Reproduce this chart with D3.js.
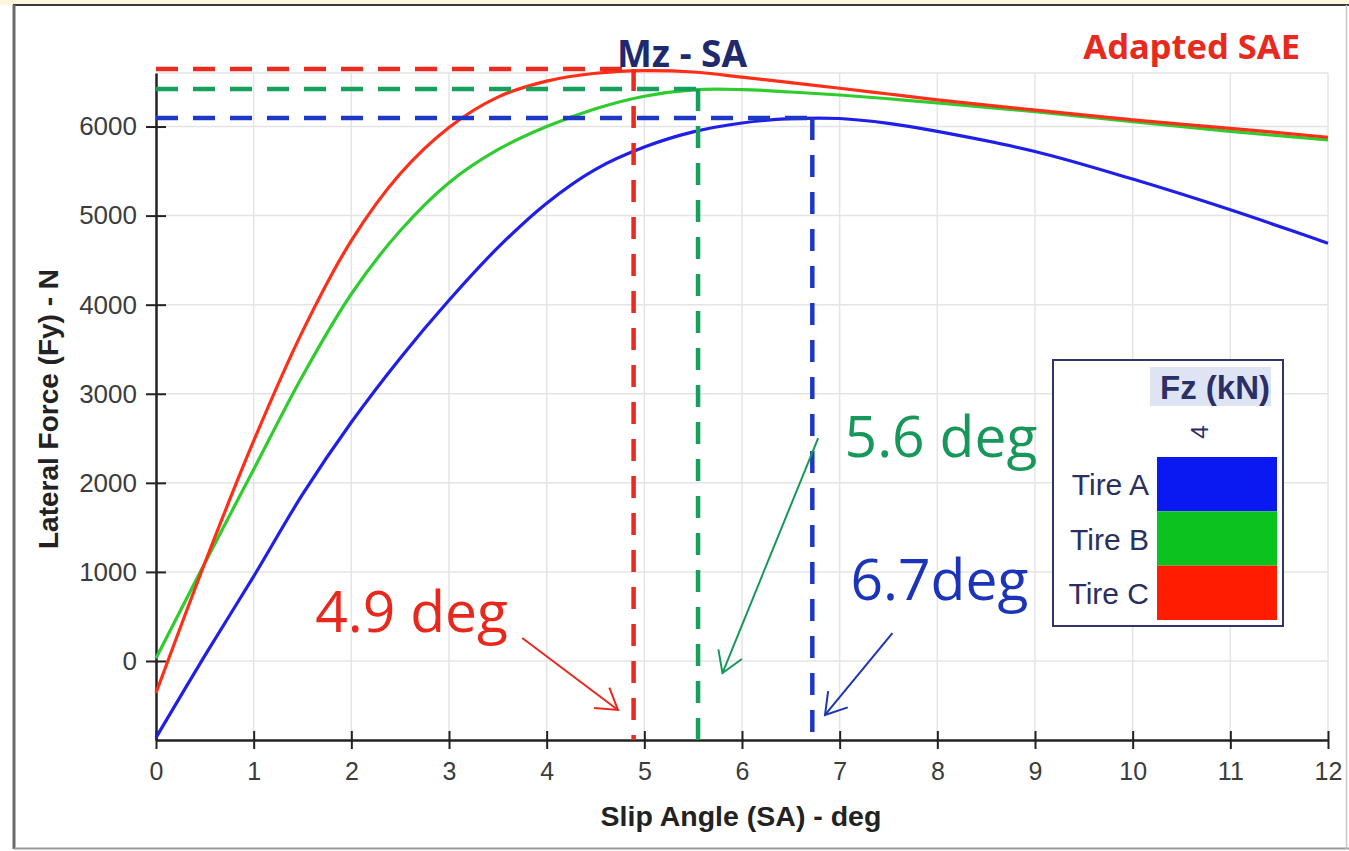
<!DOCTYPE html>
<html>
<head>
<meta charset="utf-8">
<script src="https://cdn.jsdelivr.net/npm/d3@7"></script>
<style>
  html, body { margin: 0; padding: 0; background: #ffffff; }
  svg { display: block; }
</style>
</head>
<body>
<script>
// ---------------- DATA ----------------
const slipAngles = [0, 0.5, 1, 1.5, 2, 2.5, 3, 3.5, 4, 4.5, 5, 5.5, 6, 6.5, 7, 7.5, 8, 9, 10, 11, 12];
const tireA = [-860, 60, 950, 1870, 2680, 3400, 4050, 4640, 5140, 5520, 5770, 5940, 6040, 6088, 6090, 6035, 5945, 5720, 5410, 5065, 4690];
const tireB = [30, 1100, 2150, 3200, 4120, 4830, 5370, 5740, 6000, 6200, 6340, 6412, 6415, 6388, 6354, 6312, 6264, 6167, 6055, 5945, 5850];
const tireC = [-360, 1100, 2470, 3700, 4720, 5470, 5990, 6330, 6510, 6598, 6628, 6612, 6555, 6492, 6430, 6365, 6300, 6185, 6075, 5980, 5880];
const seriesNames = ["Tire A", "Tire B", "Tire C"];
const peakSA = [6.72, 5.55, 4.89];
const peakFy = [6095, 6420, 6645];
const peakLabels = ["6.7deg", "5.6 deg", "4.9 deg"];
const xTicks = [0, 1, 2, 3, 4, 5, 6, 7, 8, 9, 10, 11, 12];
const yTicks = [0, 1000, 2000, 3000, 4000, 5000, 6000];
const legendTitle = "Fz (kN)";
const legendColumn = "4";
const chartTitle = "Mz - SA";
const cornerTitle = "Adapted SAE";
const xTitle = "Slip Angle (SA) - deg";
const yTitle = "Lateral Force (Fy) - N";

// --------------- STYLE / LAYOUT ---------------
const W = 1349, H = 851;
const lineColors = ["#1f1fe8", "#2fcc2f", "#ff2e18"];
const dashColors = ["#1d38c4", "#17a05c", "#ea2a1e"];
const textColors = ["#1c34b8", "#17985a", "#e8281c"];
const swatchColors = ["#0a18f2", "#0cc21e", "#ff1c00"];
// annotation label anchors & arrows in data coords [sa, fy]
const labelPos = [[7.11, 685], [7.05, 2290], [1.63, 326]];
const arrowFrom = [[7.54, 314], [6.78, 2503], [3.75, 258]];
const arrowTo = [[6.85, -606], [5.80, -135], [4.73, -550]];

const svg = d3.select("body").append("svg").attr("width", W).attr("height", H);

// outer frame
svg.append("rect").attr("x", 0).attr("y", 0).attr("width", W).attr("height", 5).attr("fill", "#fcf6dc");
svg.append("line").attr("x1", 13).attr("x2", W).attr("y1", 5).attr("y2", 5).attr("stroke", "#3a3a3a").attr("stroke-width", 2);
svg.append("line").attr("x1", 14).attr("x2", 14).attr("y1", 5).attr("y2", 849).attr("stroke", "#6a6a6a").attr("stroke-width", 3);
svg.append("line").attr("x1", 14).attr("x2", W).attr("y1", 848.5).attr("y2", 848.5).attr("stroke", "#9a9a9a").attr("stroke-width", 2);
svg.append("line").attr("x1", 1346.5).attr("x2", 1346.5).attr("y1", 5).attr("y2", 849).attr("stroke", "#c8c8c8").attr("stroke-width", 1.5);

const x = d3.scaleLinear().domain([0, 12]).range([156, 1328]);
const y = d3.scaleLinear().domain([-887, 6601]).range([740, 73]);

// grid
const grid = svg.append("g");
grid.selectAll("line.vx").data(xTicks.slice(1)).join("line")
  .attr("x1", d => x(d)).attr("x2", d => x(d)).attr("y1", y.range()[1]).attr("y2", y.range()[0])
  .attr("stroke", "#e4e4e4").attr("stroke-width", 1.5);
grid.selectAll("line.hy").data(yTicks.concat([y.domain()[1]])).join("line")
  .attr("x1", x.range()[0]).attr("x2", x.range()[1]).attr("y1", d => y(d)).attr("y2", d => y(d))
  .attr("stroke", "#e4e4e4").attr("stroke-width", 1.5);

// axes
const fontTick = "'Liberation Sans', Arial, sans-serif";
const gx = svg.append("g").attr("transform", `translate(0,${y.range()[0]})`)
  .call(d3.axisBottom(x).tickValues(xTicks).tickFormat(d3.format("d")).tickSize(9).tickPadding(13).tickSizeOuter(0));
gx.select(".domain").attr("stroke", "#222").attr("stroke-width", 2.5);
gx.selectAll(".tick line").attr("y1", -9).attr("y2", 9).attr("stroke", "#222").attr("stroke-width", 2);
gx.selectAll(".tick text").attr("font-family", fontTick).attr("font-size", 25).attr("fill", "#3c3c3c");

const gy = svg.append("g").attr("transform", `translate(${x.range()[0]},0)`)
  .call(d3.axisLeft(y).tickValues(yTicks).tickFormat(d3.format("d")).tickSize(10).tickPadding(9).tickSizeOuter(0));
gy.select(".domain").attr("stroke", "#222").attr("stroke-width", 2.5);
gy.selectAll(".tick line").attr("x1", -10).attr("x2", 10).attr("stroke", "#222").attr("stroke-width", 2);
gy.selectAll(".tick text").attr("font-family", fontTick).attr("font-size", 26).attr("fill", "#3c3c3c");

// axis titles
svg.append("text").attr("x", 741).attr("y", 826).attr("text-anchor", "middle")
  .attr("font-family", fontTick).attr("font-weight", "bold").attr("font-size", 28.5).attr("fill", "#222").text(xTitle);
svg.append("text").attr("transform", "translate(58,409) rotate(-90)").attr("text-anchor", "middle")
  .attr("font-family", fontTick).attr("font-weight", "bold").attr("font-size", 28).attr("fill", "#222").text(yTitle);

// curves
const series = [tireA, tireB, tireC];
const line = d3.line().x(d => x(d[0])).y(d => y(d[1])).curve(d3.curveCatmullRom.alpha(0.5));
series.forEach((vals, i) => {
  svg.append("path").datum(slipAngles.map((s, k) => [s, vals[k]]))
    .attr("d", line).attr("fill", "none").attr("stroke", lineColors[i]).attr("stroke-width", 3.2)
    .attr("stroke-linejoin", "round");
});

// peak dashed lines
peakSA.forEach((sa, i) => {
  const g = svg.append("g").attr("stroke", dashColors[i]).attr("stroke-width", 4.5).attr("stroke-dasharray", "22,15");
  g.append("line").attr("x1", x(0)).attr("x2", x(sa)).attr("y1", y(peakFy[i])).attr("y2", y(peakFy[i]));
  g.append("line").attr("x1", x(sa)).attr("x2", x(sa)).attr("y1", y(peakFy[i])).attr("y2", y.range()[0]);
});

// arrows + labels
function arrow(p0, p1, color) {
  const x1 = x(p0[0]), y1 = y(p0[1]), x2 = x(p1[0]), y2 = y(p1[1]);
  const a = Math.atan2(y2 - y1, x2 - x1);
  const L = 24, th = 32 * Math.PI / 180;
  const w1 = [x2 - L * Math.cos(a - th), y2 - L * Math.sin(a - th)];
  const w2 = [x2 - L * Math.cos(a + th), y2 - L * Math.sin(a + th)];
  svg.append("line").attr("x1", x1).attr("y1", y1).attr("x2", x2).attr("y2", y2)
    .attr("stroke", color).attr("stroke-width", 2);
  svg.append("path").attr("d", `M${w1[0]},${w1[1]}L${x2},${y2}L${w2[0]},${w2[1]}`)
    .attr("fill", "none").attr("stroke", color).attr("stroke-width", 2).attr("stroke-linejoin", "miter");
}
peakLabels.forEach((t, i) => {
  arrow(arrowFrom[i], arrowTo[i], textColors[i]);
  svg.append("text").attr("x", x(labelPos[i][0])).attr("y", y(labelPos[i][1]))
    .attr("font-family", "'Open Sans', 'Noto Sans', sans-serif").attr("font-size", 57)
    .attr("fill", textColors[i]).text(t);
});

// titles
svg.append("text").attr("x", 682).attr("y", 67).attr("text-anchor", "middle")
  .attr("font-family", "'Noto Sans', 'Open Sans', sans-serif").attr("font-weight", "bold").attr("font-size", 37)
  .attr("fill", "#1f2a6e").text(chartTitle);
svg.append("text").attr("x", 1300).attr("y", 59).attr("text-anchor", "end")
  .attr("font-family", "'Noto Sans', 'Open Sans', sans-serif").attr("font-weight", "bold").attr("font-size", 34.5)
  .attr("fill", "#e62a1e").text(cornerTitle);

// legend
const lg = svg.append("g");
lg.append("rect").attr("x", 1053).attr("y", 360).attr("width", 230).attr("height", 266)
  .attr("fill", "#ffffff").attr("stroke", "#33346a").attr("stroke-width", 2);
lg.append("rect").attr("x", 1150).attr("y", 367).attr("width", 121).attr("height", 39).attr("fill", "#dfe4f4");
lg.append("text").attr("x", 1270).attr("y", 399).attr("text-anchor", "end")
  .attr("font-family", fontTick).attr("font-weight", "bold").attr("font-size", 33).attr("fill", "#2a2f66").text(legendTitle);
lg.append("text").attr("transform", "translate(1208,432) rotate(-90)").attr("text-anchor", "middle")
  .attr("font-family", fontTick).attr("font-size", 24).attr("fill", "#2a2f66").text(legendColumn);
const rowY = d3.scaleBand().domain(seriesNames).range([457, 620]);
seriesNames.forEach((n, i) => {
  lg.append("rect").attr("x", 1157).attr("y", rowY(n)).attr("width", 120).attr("height", rowY.bandwidth())
    .attr("fill", swatchColors[i]);
  lg.append("text").attr("x", 1149).attr("y", rowY(n) + rowY.bandwidth() / 2 + 11).attr("text-anchor", "end")
    .attr("font-family", fontTick).attr("font-size", 30).attr("fill", "#2a2f5e").text(n);
});
</script>
</body>
</html>
